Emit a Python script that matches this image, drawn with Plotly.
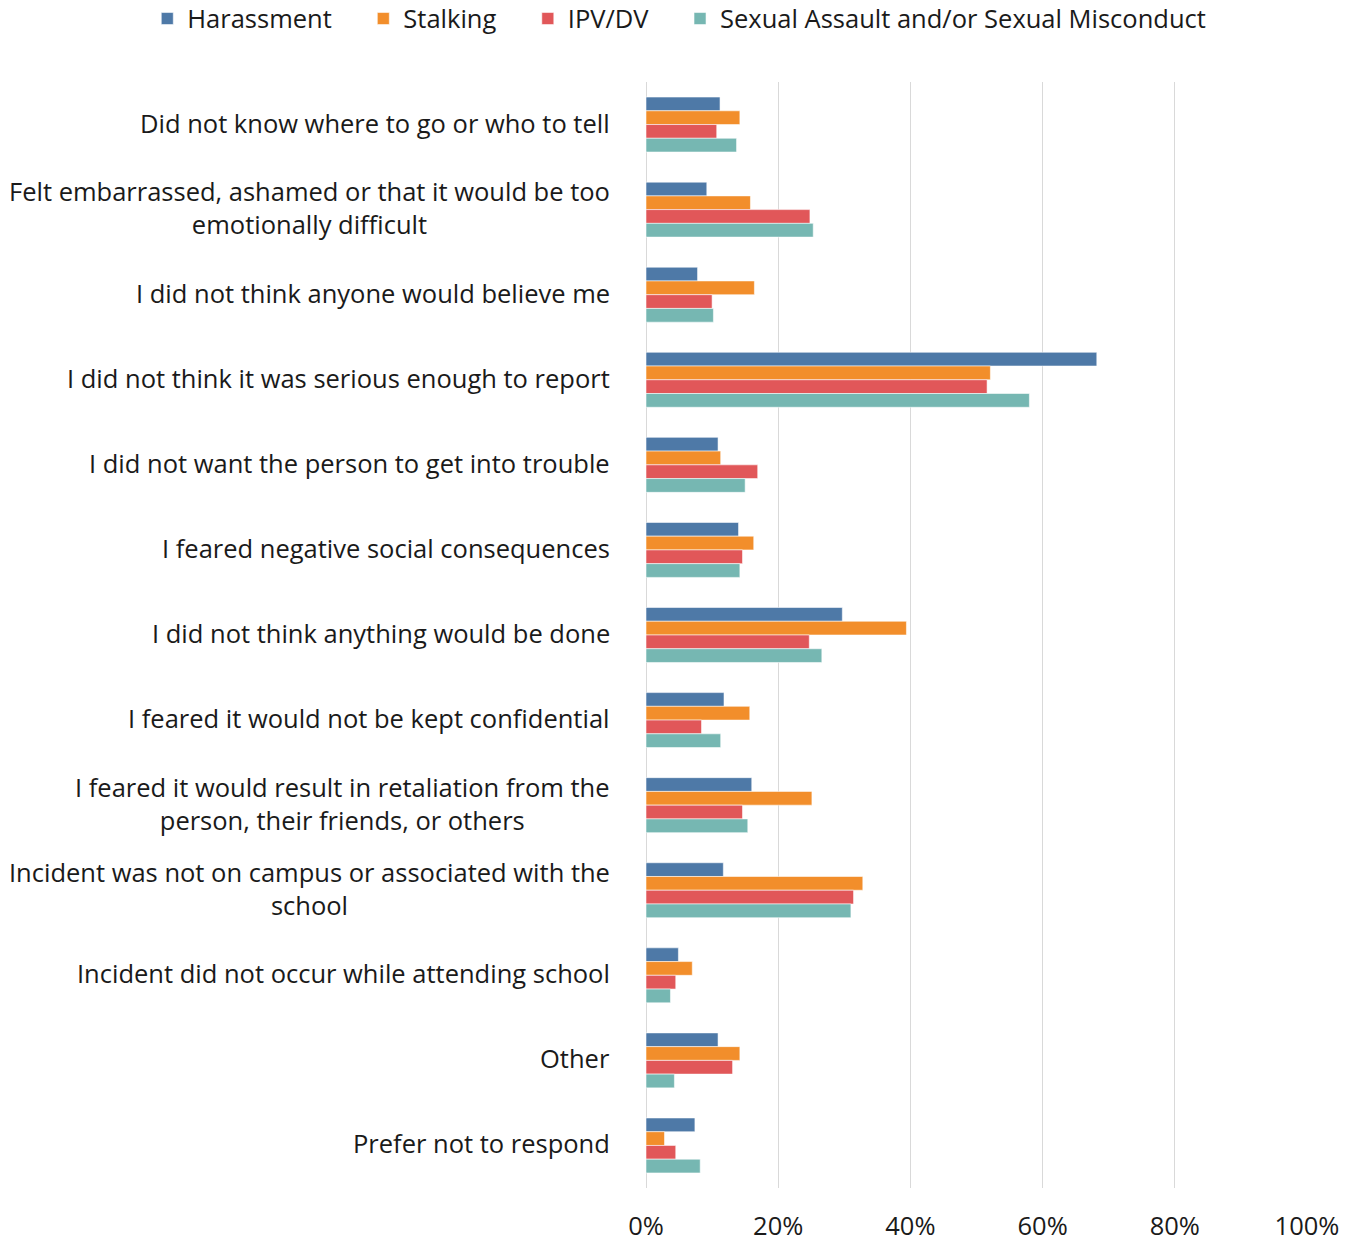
import plotly.graph_objects as go

# Reasons for not reporting, listed top to bottom
categories = [
    "Did not know where to go or who to tell",
    "Felt embarrassed, ashamed or that it would be too<br>emotionally difficult",
    "I did not think anyone would believe me",
    "I did not think it was serious enough to report",
    "I did not want the person to get into trouble",
    "I feared negative social consequences",
    "I did not think anything would be done",
    "I feared it would not be kept confidential",
    "I feared it would result in retaliation from the<br>person, their friends, or others",
    "Incident was not on campus or associated with the<br>school",
    "Incident did not occur while attending school",
    "Other",
    "Prefer not to respond",
]

# Percent of respondents per incident type
harassment = [11.2, 9.2, 7.8, 68.2, 10.9, 14.0, 29.7, 11.8, 16.0, 11.7, 4.9, 10.9, 7.4]
stalking = [14.2, 15.8, 16.4, 52.1, 11.3, 16.3, 39.4, 15.7, 25.1, 32.8, 7.0, 14.2, 2.8]
ipv_dv = [10.7, 24.8, 10.0, 51.6, 16.9, 14.6, 24.7, 8.4, 14.6, 31.4, 4.5, 13.1, 4.5]
sexual_assault = [13.7, 25.3, 10.2, 58.0, 15.0, 14.2, 26.6, 11.3, 15.4, 31.0, 3.7, 4.3, 8.2]

series_names = ["Harassment", "Stalking", "IPV/DV", "Sexual Assault and/or Sexual Misconduct"]
series_values = [harassment, stalking, ipv_dv, sexual_assault]
series_colors = ["#4E79A7", "#F28E2B", "#E15759", "#76B7B2"]

x_ticks = [0, 20, 40, 60, 80, 100]
x_tick_labels = ["0%", "20%", "40%", "60%", "80%", "100%"]

FONT = "Open Sans"
FONT_SIZE = 25.5
TEXT_COLOR = "#1A1A1A"
LEGEND_PAD = "\u00a0" * 4  # extra room between legend entries

fig = go.Figure()
for name, values, color in zip(series_names, series_values, series_colors):
    fig.add_trace(go.Bar(
        name=name + (LEGEND_PAD if name != series_names[-1] else ""),
        y=categories,
        x=values,
        orientation="h",
        marker=dict(color=color, line=dict(color="rgba(255,255,255,0.55)", width=1)),
    ))

# Category labels as annotations so wrapped lines stay centred on each other
for cat in categories:
    fig.add_annotation(
        x=0, xref="paper", xanchor="right", xshift=-34,
        y=cat, yref="y", yanchor="middle", yshift=2,
        text=cat, showarrow=False, align="center",
        font=dict(family=FONT, size=FONT_SIZE, color=TEXT_COLOR),
    )

fig.update_layout(
    width=1358,
    height=1243,
    margin=dict(l=646, r=51, t=82, b=55, autoexpand=False),
    paper_bgcolor="white",
    plot_bgcolor="white",
    barmode="group",
    bargap=0.354,
    bargroupgap=0,
    font=dict(family=FONT, size=FONT_SIZE, color=TEXT_COLOR),
    legend=dict(
        orientation="h",
        xref="paper", x=-0.7545, xanchor="left",
        yref="paper", y=1.057, yanchor="middle",
        font=dict(family=FONT, size=FONT_SIZE, color=TEXT_COLOR),
        traceorder="normal",
    ),
    xaxis=dict(
        range=[0, 100],
        tickmode="array",
        tickvals=x_ticks,
        ticktext=x_tick_labels,
        showgrid=True,
        gridcolor="#D9D9D9",
        gridwidth=1,
        zeroline=True,
        zerolinecolor="#D9D9D9",
        zerolinewidth=1,
        showline=False,
        ticks="",
        ticklabelstandoff=20,
        tickfont=dict(family=FONT, size=FONT_SIZE, color=TEXT_COLOR),
        fixedrange=True,
    ),
    yaxis=dict(
        type="category",
        categoryorder="array",
        categoryarray=categories,
        autorange="reversed",
        showticklabels=False,
        showgrid=False,
        zeroline=False,
        showline=False,
        ticks="",
        fixedrange=True,
    ),
)

fig.write_html("out.html")
